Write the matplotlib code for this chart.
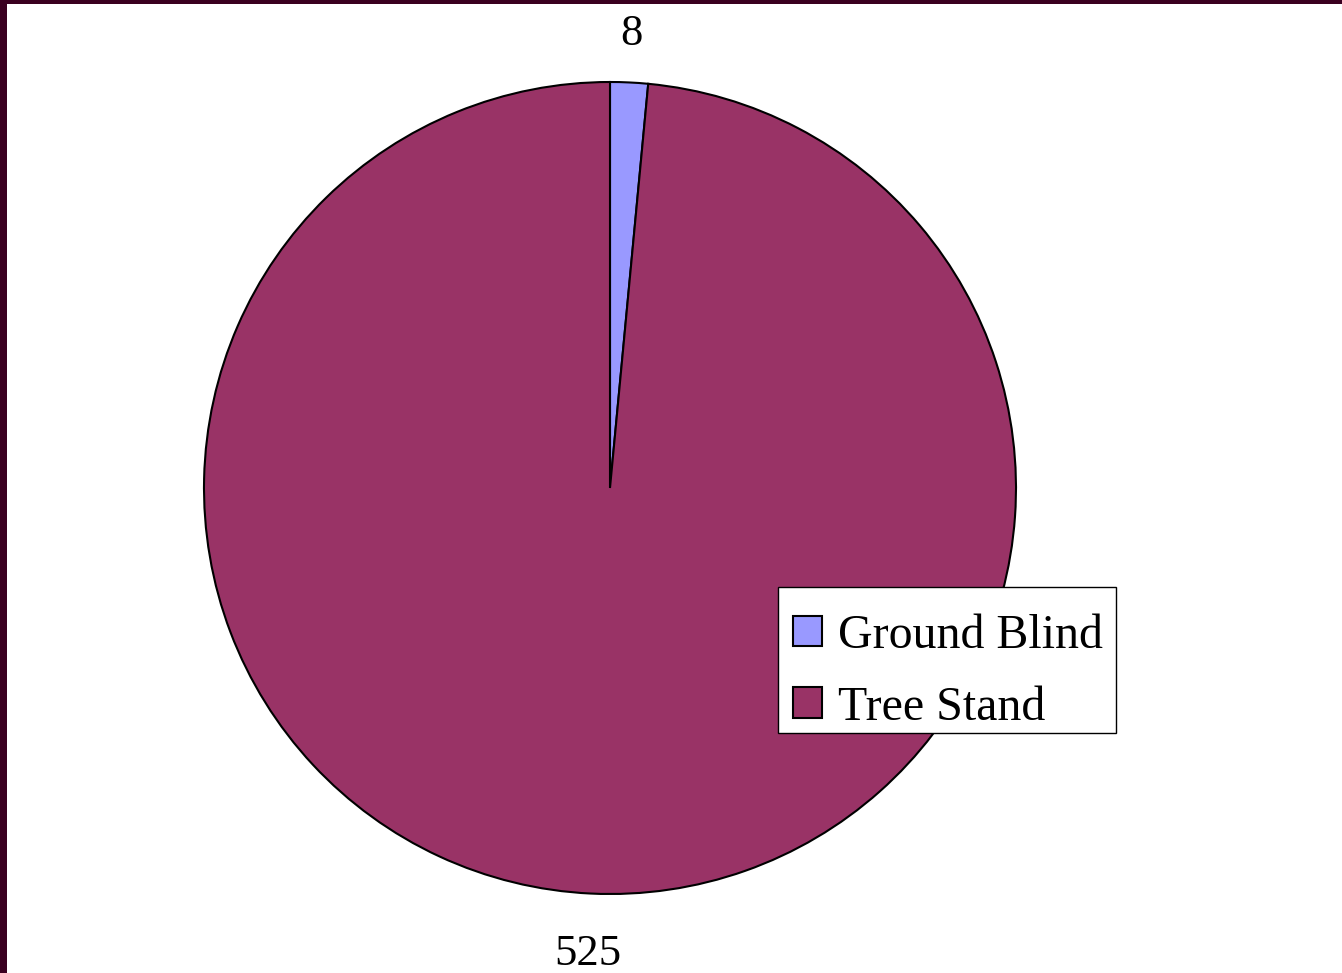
import matplotlib
matplotlib.use('Agg')
import matplotlib.pyplot as plt
from matplotlib.patches import Rectangle

# data
labels = ['Ground Blind', 'Tree Stand']
counts = [8, 525]
colors = ['#9999FF', '#993366']

plt.rcParams['font.family'] = ['Liberation Serif', 'DejaVu Serif']

W, H = 1342, 973
fig = plt.figure(figsize=(W / 100, H / 100), dpi=100)
fig.patch.set_facecolor('white')

# dark frame on the left and top edges
fig.patches.append(Rectangle((0, 0), 7 / W, 1, transform=fig.transFigure,
                             facecolor='#3a0020', edgecolor='none', zorder=0))
fig.patches.append(Rectangle((0, 1 - 4 / H), 1, 4 / H, transform=fig.transFigure,
                             facecolor='#3a0020', edgecolor='none', zorder=0))

# pie centre about (610, 488) px, radius about 406 px
cx, cy, r = 610, 488, 406
ax = fig.add_axes([(cx - r) / W, (H - cy - r) / H, 2 * r / W, 2 * r / H])

wedges, texts = ax.pie(counts, labels=[str(c) for c in counts], colors=colors,
                       startangle=90, counterclock=False, labeldistance=1.12,
                       wedgeprops=dict(edgecolor='black', linewidth=1.5),
                       textprops=dict(fontsize=32, color='black'))
for t in texts:
    t.set_horizontalalignment('center')
    t.set_verticalalignment('center')
# lower label sits a bit further out
x, y = texts[1].get_position()
texts[1].set_position((x * 1.15 / 1.12, y * 1.15 / 1.12))
ax.set_xlim(-1, 1)
ax.set_ylim(-1, 1)
ax.set_aspect('equal')

# legend box
fig.patches.append(Rectangle((778 / W, (H - 733) / H), 338 / W, 146 / H,
                             transform=fig.transFigure, facecolor='white',
                             edgecolor='black', linewidth=1.0, zorder=2))

leg = fig.legend(wedges, labels, loc='upper left',
                 bbox_to_anchor=(776 / W, (H - 597) / H),
                 fontsize=34.5, frameon=False,
                 handlelength=0.6, handleheight=0.6,
                 handletextpad=0.35, borderpad=0.35, labelspacing=0.58,
                 borderaxespad=0)
leg.set_zorder(3)
for h in leg.legend_handles:
    h.set_edgecolor('black')
    h.set_linewidth(1.5)

fig.savefig('out.png', dpi=100)
